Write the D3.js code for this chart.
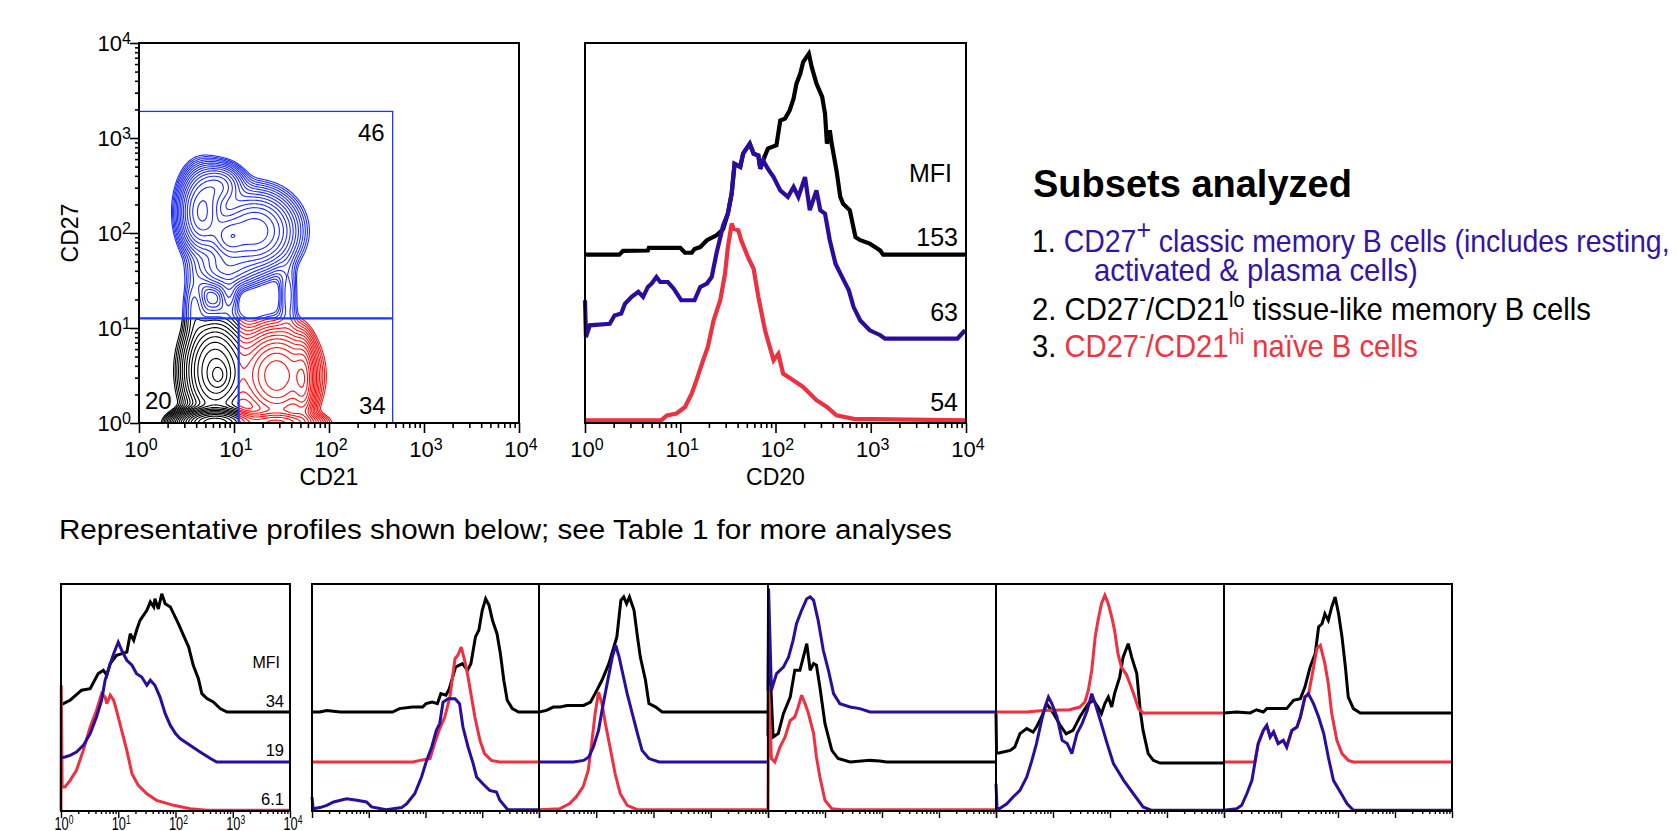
<!DOCTYPE html>
<html>
<head>
<meta charset="utf-8">
<script src="https://cdn.jsdelivr.net/npm/d3@7"></script>
<style>
  body { margin: 0; background: #fff; }
  text { font-family: "Liberation Sans", Arial, Helvetica, sans-serif; }
</style>
</head>
<body>
<svg id="fig" width="1678" height="831"></svg>
<script>
// ---------------- data ----------------
var decades = [1, 10, 100, 1000, 10000];
var decadeExp = ["0", "1", "2", "3", "4"];

// gates on the CD21 / CD27 plot
var gateCD21 = [1, 468];
var gateCD27 = [1, 1905];
var splitCD21 = 11.2;
var splitCD27 = 12.6;
var gatePercents = ["46", "20", "34"];

// cell populations, log10 units: [cd21, cd27, spread21, spread27, weight]
var memoryCells = [
  [0.66, 2.22, 0.12, 0.22, 1.0],
  [1.22, 2.02, 0.22, 0.21, 0.9],
  [0.94, 1.95, 0.10, 0.12, 0.5],
  [0.85, 2.50, 0.13, 0.12, 0.5],
  [0.90, 1.62, 0.18, 0.12, 0.25],
  [0.58, 1.25, 0.07, 0.20, 0.10],
  [0.95, 1.35, 0.06, 0.12, 0.08],
  [1.57, 1.35, 0.06, 0.22, 0.09]
];
var tissueCells = [
  [0.80, 0.55, 0.17, 0.28, 0.8],
  [0.84, 0.50, 0.06, 0.08, 0.3],
  [0.80, 0.00, 0.18, 0.07, 4.0]
];
var naiveCells = [
  [1.45, 0.50, 0.20, 0.25, 0.9],
  [1.73, 0.45, 0.06, 0.22, 0.45],
  [1.45, 0.00, 0.22, 0.06, 0.9]
];

// CD20 histograms: [log10 intensity, % of panel height]
var cd20Black = [[0,44.3],[0.36,44.3],[0.40,45.3],[0.66,45.4],[0.67,46.1],[1.0,46.1],[1.05,44.8],[1.12,44.8],[1.15,45.8],[1.21,46.3],[1.28,48.1],[1.38,49.4],[1.45,51.0],[1.50,55.1],[1.54,60.4],[1.57,68.2],[1.63,67.4],[1.66,70.9],[1.73,73.5],[1.77,70.9],[1.82,70.4],[1.84,66.9],[1.87,69.1],[1.92,72.2],[2.01,73.1],[2.05,79.6],[2.10,80.1],[2.15,82.3],[2.19,85.4],[2.22,89.3],[2.26,91.9],[2.29,95.0],[2.35,97.2],[2.38,93.7],[2.43,89.3],[2.49,85.8],[2.52,81.4],[2.54,73.5],[2.57,77.0],[2.59,73.5],[2.64,66.5],[2.68,59.5],[2.71,57.7],[2.78,56.0],[2.84,48.9],[2.89,48.1],[2.99,47.2],[3.10,45.4],[3.13,44.3],[4,44.3]];
var cd20Blue = [[0,32.3],[0.01,22.6],[0.05,25.7],[0.26,26.1],[0.31,28.3],[0.38,28.8],[0.42,31.4],[0.49,33.2],[0.56,34.5],[0.61,33.2],[0.66,35.8],[0.70,36.7],[0.75,38.4],[0.79,37.1],[0.87,37.1],[0.93,35.4],[1.01,32.3],[1.15,32.3],[1.21,35.8],[1.28,36.7],[1.33,38.4],[1.38,44.6],[1.45,52.0],[1.50,55.1],[1.54,60.4],[1.57,68.2],[1.63,67.4],[1.66,70.9],[1.73,73.5],[1.77,70.9],[1.82,70.4],[1.84,66.9],[1.87,69.1],[1.92,66.9],[1.98,64.7],[2.05,61.2],[2.13,59.5],[2.19,62.1],[2.24,59.5],[2.31,64.7],[2.36,56.0],[2.43,61.2],[2.47,56.0],[2.52,55.1],[2.57,48.1],[2.63,41.9],[2.70,38.4],[2.77,34.9],[2.82,30.5],[2.89,27.0],[2.99,24.4],[3.10,23.1],[3.15,22.2],[3.91,22.2],[3.99,24.4]];
var cd20Red = [[0,0.7],[0.80,0.7],[0.86,2.0],[0.96,2.5],[1.05,4.2],[1.12,7.7],[1.17,11.2],[1.24,16.5],[1.29,20.0],[1.35,27.0],[1.42,32.3],[1.47,39.3],[1.50,46.3],[1.54,52.5],[1.56,51.1],[1.61,50.7],[1.64,48.1],[1.71,43.7],[1.77,40.6],[1.82,33.2],[1.89,24.4],[1.98,16.5],[2.03,18.2],[2.08,13.0],[2.19,11.2],[2.29,9.5],[2.43,6.0],[2.54,4.2],[2.64,2.0],[2.82,1.1],[4,0.7]];
var cd20Mfi = ["153", "63", "54"];

// representative profiles (bottom row)
var p1Black = [[0,46.5],[0.04,47.3],[0.16,48.8],[0.36,53.2],[0.51,53.9],[0.65,60.5],[0.74,62.0],[0.80,59.8],[0.86,64.9],[0.97,68.6],[1.15,70.0],[1.21,78.1],[1.27,75.2],[1.32,79.6],[1.38,84.0],[1.50,88.4],[1.56,92.1],[1.62,89.9],[1.64,93.5],[1.70,89.0],[1.76,95.7],[1.82,91.3],[1.91,89.9],[2.05,82.5],[2.14,77.4],[2.23,72.2],[2.31,64.2],[2.40,58.3],[2.46,51.7],[2.55,49.5],[2.66,48.0],[2.78,45.1],[2.90,43.6],[4,43.6]];
var p1Blue = [[0,23.5],[0.07,23.8],[0.16,24.5],[0.27,26.0],[0.39,28.9],[0.51,34.1],[0.62,41.4],[0.71,48.8],[0.77,57.6],[0.86,64.9],[0.92,69.3],[1.0,74.4],[1.06,70.8],[1.15,66.4],[1.24,64.2],[1.32,60.5],[1.41,59.0],[1.50,55.4],[1.56,57.6],[1.64,55.4],[1.73,50.2],[1.82,42.9],[1.91,37.7],[2.0,34.1],[2.08,31.9],[2.26,28.9],[2.43,26.0],[2.61,23.1],[2.72,21.6],[4,21.6]];
var p1Red = [[0,0],[0.005,55.4],[0.02,10.6],[0.07,10.6],[0.16,13.5],[0.27,17.9],[0.39,26.7],[0.51,37.0],[0.62,44.3],[0.71,51.7],[0.77,50.2],[0.80,47.3],[0.86,51.0],[0.92,48.8],[0.97,44.3],[1.06,35.5],[1.15,26.7],[1.24,16.4],[1.35,11.3],[1.50,7.6],[1.67,4.7],[1.97,2.5],[2.26,1.0],[2.55,0.3],[4,0.3]];
var p1Mfi = ["34", "19", "6.1"];

var p2Black = [[0,43.6],[0.14,43.6],[0.26,44.3],[0.5,43.6],[0.96,43.6],[1.42,43.6],[1.54,45.1],[1.77,45.8],[1.95,45.8],[2.01,47.3],[2.12,48.0],[2.21,47.3],[2.27,51.7],[2.36,51.0],[2.42,53.9],[2.53,63.4],[2.65,64.9],[2.74,62.0],[2.80,64.9],[2.88,76.7],[2.94,79.6],[3.0,88.4],[3.06,93.5],[3.12,90.6],[3.18,84.0],[3.26,78.1],[3.32,69.3],[3.38,57.6],[3.44,48.8],[3.53,45.1],[3.64,43.6],[4,43.6]];
var p2Blue = [[0,6.2],[0.02,1.0],[0.14,1.5],[0.26,2.5],[0.38,4.0],[0.61,5.4],[0.79,4.7],[0.96,4.0],[1.05,1.8],[1.31,0.6],[1.58,1.5],[1.67,3.2],[1.81,7.6],[1.93,15.0],[2.02,22.3],[2.11,28.2],[2.19,35.5],[2.25,38.5],[2.31,48.0],[2.40,49.5],[2.52,49.5],[2.60,47.3],[2.66,37.0],[2.75,28.2],[2.84,20.9],[2.90,15.0],[3.01,12.0],[3.13,9.1],[3.25,8.4],[3.31,4.7],[3.45,0.6],[4,0.6]];
var p2Red = [[0,21.6],[1.78,21.6],[1.90,22.3],[2.08,23.1],[2.16,29.7],[2.25,36.3],[2.34,41.4],[2.43,50.2],[2.52,67.1],[2.57,68.6],[2.63,72.2],[2.69,66.4],[2.75,59.0],[2.81,50.2],[2.87,41.4],[2.96,31.1],[3.04,25.3],[3.16,22.3],[3.31,21.6],[4,21.6]];

var p3Black = [[0,43.6],[0.13,44.3],[0.25,45.8],[0.37,45.8],[0.49,46.5],[0.78,46.5],[0.90,48.0],[0.98,51.7],[1.10,57.6],[1.22,64.9],[1.36,76.7],[1.43,92.8],[1.48,94.3],[1.53,91.3],[1.58,94.3],[1.66,88.4],[1.72,76.7],[1.77,67.8],[1.86,57.6],[1.92,47.3],[2.04,45.8],[2.15,43.6],[4,43.6]];
var p3Blue = [[0,21.6],[0.6,21.6],[0.78,22.3],[0.87,23.8],[0.95,28.2],[1.04,35.5],[1.10,44.3],[1.19,56.1],[1.28,67.8],[1.34,73.0],[1.40,67.8],[1.45,62.0],[1.54,51.7],[1.63,42.9],[1.72,34.1],[1.80,26.7],[1.92,23.1],[2.10,21.6],[4,21.6]];
var p3Red = [[0,0.6],[0.36,1.0],[0.53,3.2],[0.65,6.2],[0.77,10.6],[0.86,17.9],[0.92,29.7],[0.98,42.9],[1.04,52.4],[1.10,47.3],[1.16,38.5],[1.24,28.2],[1.33,16.4],[1.42,7.6],[1.54,2.5],[1.72,0.6],[4,0.6]];

var p4Black = [[0,33.0],[0.01,76.7],[0.09,32.6],[0.18,34.1],[0.27,42.9],[0.39,50.2],[0.47,62.0],[0.56,62.0],[0.62,67.8],[0.68,73.7],[0.74,62.0],[0.80,64.9],[0.85,64.2],[0.91,54.6],[1.0,38.5],[1.12,26.7],[1.23,23.1],[1.44,21.6],[1.79,22.3],[1.96,22.0],[2.08,21.6],[4,21.6]];
var p4Blue = [[0,53.0],[0.01,98.0],[0.06,53.2],[0.15,60.5],[0.27,63.4],[0.36,67.8],[0.44,75.2],[0.50,82.5],[0.59,88.4],[0.68,93.5],[0.74,94.3],[0.80,92.8],[0.88,84.0],[0.97,70.8],[1.06,62.0],[1.15,51.7],[1.26,47.3],[1.44,45.8],[1.61,45.1],[1.79,43.6],[4,43.6]];
var p4Red = [[0,0.6],[0.01,55.4],[0.06,23.1],[0.12,21.6],[0.21,28.2],[0.30,32.6],[0.39,39.9],[0.47,41.4],[0.53,45.8],[0.59,51.0],[0.65,47.3],[0.71,42.9],[0.80,34.1],[0.85,23.8],[0.91,15.0],[1.0,4.7],[1.12,1.0],[1.3,0.6],[4,0.6]];

var p5Black = [[0,43.0],[0.01,25.6],[0.05,25.6],[0.25,26.7],[0.33,28.2],[0.42,34.1],[0.54,36.3],[0.65,34.8],[0.71,37.0],[0.80,41.4],[0.89,47.3],[1.01,42.9],[1.12,38.0],[1.23,34.0],[1.35,35.5],[1.47,41.4],[1.62,47.3],[1.71,48.8],[1.79,45.8],[1.85,42.9],[1.91,47.3],[1.97,50.2],[2.03,45.8],[2.08,51.7],[2.17,59.0],[2.23,67.8],[2.32,73.7],[2.38,67.8],[2.47,60.5],[2.53,44.3],[2.58,35.5],[2.67,25.3],[2.76,22.3],[2.88,21.1],[4,21.1]];
var p5Blue = [[0,12.0],[0.02,0.3],[0.19,3.2],[0.30,6.2],[0.42,9.1],[0.54,15.0],[0.63,22.3],[0.71,29.7],[0.80,39.9],[0.86,45.8],[0.92,50.2],[0.98,47.3],[1.07,41.4],[1.16,31.1],[1.25,29.7],[1.33,25.3],[1.42,34.1],[1.51,38.5],[1.60,44.3],[1.68,51.7],[1.74,47.3],[1.83,39.9],[1.95,29.7],[2.06,20.9],[2.24,13.5],[2.41,7.6],[2.58,1.8],[2.73,0.3],[4,0.3]];
var p5Red = [[0,43.6],[0.54,43.6],[0.83,44.3],[1.29,44.6],[1.47,45.8],[1.56,48.0],[1.62,53.2],[1.68,62.0],[1.74,76.7],[1.79,84.0],[1.85,91.3],[1.91,95.0],[1.97,91.3],[2.03,85.5],[2.08,79.6],[2.14,69.3],[2.20,63.4],[2.29,60.0],[2.41,52.0],[2.50,45.1],[2.58,43.2],[4,43.2]];

var p6Black = [[0,43.2],[0.22,43.6],[0.46,43.2],[0.57,44.6],[0.69,43.6],[0.75,45.1],[1.10,45.1],[1.22,48.8],[1.34,49.5],[1.42,54.6],[1.51,63.4],[1.60,69.3],[1.66,81.1],[1.72,82.5],[1.77,86.9],[1.83,84.0],[1.89,89.9],[1.95,94.3],[2.01,86.9],[2.07,76.7],[2.13,63.4],[2.18,50.2],[2.27,45.1],[2.39,43.2],[4,43.2]];
var p6Blue = [[0,0.3],[0.22,1.0],[0.31,2.5],[0.40,7.6],[0.49,13.5],[0.54,20.9],[0.60,29.7],[0.69,35.5],[0.75,37.7],[0.81,32.6],[0.87,34.8],[0.95,29.7],[1.04,31.1],[1.10,28.2],[1.19,35.5],[1.28,37.0],[1.34,41.4],[1.42,50.2],[1.48,51.7],[1.57,47.3],[1.66,41.4],[1.75,34.1],[1.83,23.8],[1.92,13.5],[2.04,8.4],[2.16,3.2],[2.27,0.3],[4,0.3]];
var p6Red = [[0,21.6],[0.54,21.6],[0.60,29.7],[0.69,35.5],[0.75,37.7],[0.81,32.6],[0.87,34.8],[0.95,29.7],[1.04,31.1],[1.10,28.2],[1.19,35.5],[1.28,37.0],[1.34,41.4],[1.42,50.2],[1.48,51.0],[1.54,59.0],[1.63,71.6],[1.69,73.0],[1.77,64.9],[1.83,56.1],[1.89,42.9],[1.98,31.1],[2.07,25.3],[2.18,22.3],[2.27,21.6],[4,21.6]];

// ---------------- drawing ----------------
var blue = "#2b0ca0", red = "#ee3040", black = "#000";
var svg = d3.select("#fig");
svg.append("rect").attr("width", 1678).attr("height", 831).attr("fill", "#fff");

var minorTicks = [];
decades.slice(0, 4).forEach(function(d) {
  for (var k = 2; k < 10; k++) minorTicks.push(d * k);
});

function logTicks(scale, side, pos, major, minor, w) {
  var make = side === "bottom" ? d3.axisBottom : d3.axisLeft;
  var tr = side === "bottom" ? "translate(0," + pos + ")" : "translate(" + pos + ",0)";
  [[minorTicks, minor], [decades, major]].forEach(function(t) {
    var g = svg.append("g").attr("transform", tr)
      .call(make(scale).tickValues(t[0]).tickSize(t[1]).tickFormat(""));
    g.select(".domain").remove();
    g.selectAll("line").attr("stroke", "#000").attr("stroke-width", w);
  });
}

// power-of-ten label, e.g. 10 with superscript 2
function powerLabel(x, y, exp, anchor, size, supSize, rise) {
  var t = svg.append("text").attr("x", x).attr("y", y)
    .attr("text-anchor", anchor).attr("font-size", size).attr("fill", "#000");
  t.append("tspan").text("10");
  t.append("tspan").attr("font-size", supSize).attr("dy", -rise).text(exp);
  return t;
}

function squeeze(sel, x, target) {
  var len = sel.node().getComputedTextLength();
  var k = target / len;
  sel.attr("transform", "translate(" + x + ",0) scale(" + k + ",1) translate(" + (-x) + ",0)");
}

// ---- CD21 x CD27 contour plot ----
var cx = d3.scaleLog().domain([1, 1e4]).range([139, 519]);
var cy = d3.scaleLog().domain([1, 1e4]).range([423, 43]);

var n = 240, span = 4;
var grid = new Float64Array(n * n);
var allCells = memoryCells.concat(tissueCells, naiveCells);
for (var j = 0; j < n; j++) {
  for (var i = 0; i < n; i++) {
    var lx = (i + 0.5) * span / n, ly = (j + 0.5) * span / n, v = 0;
    allCells.forEach(function(c) {
      v += c[4] * Math.exp(-((lx - c[0]) * (lx - c[0]) / (2 * c[2] * c[2]) +
                             (ly - c[1]) * (ly - c[1]) / (2 * c[3] * c[3])));
    });
    grid[j * n + i] = v;
  }
}
var levels = d3.range(20).map(function(k) { return 0.03 * Math.pow(1.28, k); });
var contours = d3.contours().size([n, n]).thresholds(levels)(grid);
var toPlot = d3.geoTransform({
  point: function(gx, gy) {
    this.stream.point(cx(Math.pow(10, gx * span / n)), cy(Math.pow(10, gy * span / n)));
  }
});
var contourPath = d3.geoPath(toPlot);

var defs = svg.append("defs");
var gateRegions = [
  ["clipMem", gateCD21[0], gateCD21[1], splitCD27, gateCD27[1], "#1f2bff"],
  ["clipTis", gateCD21[0], splitCD21, gateCD27[0], splitCD27, "#000"],
  ["clipNai", splitCD21, gateCD21[1], gateCD27[0], splitCD27, "#ff1010"]
];
gateRegions.forEach(function(r) {
  defs.append("clipPath").attr("id", r[0]).append("rect")
    .attr("x", cx(r[1])).attr("width", cx(r[2]) - cx(r[1]))
    .attr("y", cy(r[4])).attr("height", cy(r[3]) - cy(r[4]));
  svg.append("g").attr("clip-path", "url(#" + r[0] + ")")
    .selectAll("path").data(contours).enter().append("path")
    .attr("d", contourPath).attr("fill", "none")
    .attr("stroke", r[5]).attr("stroke-width", 1.1);
});

// gate box and dividers
svg.append("rect")
  .attr("x", cx(gateCD21[0])).attr("y", cy(gateCD27[1]))
  .attr("width", cx(gateCD21[1]) - cx(gateCD21[0]))
  .attr("height", cy(gateCD27[0]) - cy(gateCD27[1]))
  .attr("fill", "none").attr("stroke", "#1a36ff").attr("stroke-width", 1.3);
svg.append("line")
  .attr("x1", cx(gateCD21[0])).attr("x2", cx(gateCD21[1]))
  .attr("y1", cy(splitCD27)).attr("y2", cy(splitCD27))
  .attr("stroke", "#1a36ff").attr("stroke-width", 2.2);
svg.append("line")
  .attr("x1", cx(splitCD21)).attr("x2", cx(splitCD21))
  .attr("y1", cy(splitCD27)).attr("y2", cy(gateCD27[0]))
  .attr("stroke", "#1a36ff").attr("stroke-width", 2.2);

svg.append("text").attr("x", cx(gateCD21[1]) - 8).attr("y", cy(gateCD27[1]) + 30)
  .attr("text-anchor", "end").attr("font-size", 24).text(gatePercents[0]);
svg.append("text").attr("x", cx(gateCD21[0]) + 6).attr("y", cy(gateCD27[0]) - 14)
  .attr("font-size", 24).text(gatePercents[1]);
svg.append("text").attr("x", cx(gateCD21[1]) - 7).attr("y", cy(gateCD27[0]) - 9)
  .attr("text-anchor", "end").attr("font-size", 24).text(gatePercents[2]);

svg.append("rect").attr("x", 139).attr("y", 43).attr("width", 380).attr("height", 380)
  .attr("fill", "none").attr("stroke", "#000").attr("stroke-width", 2);
logTicks(cx, "bottom", 423, 10, 5, 1.6);
logTicks(cy, "left", 139, 9, 4, 1.6);
decades.forEach(function(d, k) {
  powerLabel(cx(d) + 2, 457, decadeExp[k], "middle", 22, 16, 7);
  powerLabel(131, cy(d) + 8, decadeExp[k], "end", 22, 16, 7);
});
svg.append("text").attr("x", 329).attr("y", 485).attr("text-anchor", "middle")
  .attr("font-size", 23).text("CD21");
svg.append("text").attr("transform", "translate(78,233) rotate(-90)")
  .attr("text-anchor", "middle").attr("font-size", 23).text("CD27");

// ---- histogram panels ----
function histPanel(x0, x1, y0, y1, series, lineW) {
  var x = d3.scaleLog().domain([1, 1e4]).range([x0, x1]);
  var y = d3.scaleLinear().domain([0, 100]).range([y1, y0]);
  var line = d3.line()
    .x(function(d) { return x(Math.pow(10, d[0])); })
    .y(function(d) { return y(d[1]); });
  series.forEach(function(s) {
    svg.append("path").datum(s[0]).attr("d", line)
      .attr("fill", "none").attr("stroke", s[1]).attr("stroke-width", lineW)
      .attr("stroke-linejoin", "miter").attr("stroke-miterlimit", 3);
  });
  svg.append("rect").attr("x", x0).attr("y", y0).attr("width", x1 - x0).attr("height", y1 - y0)
    .attr("fill", "none").attr("stroke", "#000").attr("stroke-width", 2);
  return { x: x, y: y };
}

var cd20Panel = histPanel(585, 966, 43, 423, [[cd20Black, black], [cd20Red, red], [cd20Blue, blue]], 4.2);
logTicks(cd20Panel.x, "bottom", 423, 10, 5, 1.6);
decades.forEach(function(d, k) { powerLabel(cd20Panel.x(d) + 2, 457, decadeExp[k], "middle", 22, 16, 7); });
svg.append("text").attr("x", 775.5).attr("y", 485).attr("text-anchor", "middle")
  .attr("font-size", 23).text("CD20");
svg.append("text").attr("x", 952).attr("y", 182).attr("text-anchor", "end")
  .attr("font-size", 25).text("MFI");
[cd20Black, cd20Blue, cd20Red].forEach(function(s, k) {
  svg.append("text").attr("x", 958).attr("y", cd20Panel.y(s[s.length - 1][1]) - 9)
    .attr("text-anchor", "end").attr("font-size", 25).text(cd20Mfi[k]);
});

var rowTop = 584, rowBottom = 811;
var rowPanels = [
  [61, 290, p1Black, p1Blue, p1Red],
  [312, 539, p2Black, p2Blue, p2Red],
  [539, 768, p3Black, p3Blue, p3Red],
  [768, 996, p4Black, p4Blue, p4Red],
  [996, 1224, p5Black, p5Blue, p5Red],
  [1224, 1452, p6Black, p6Blue, p6Red]
];
var firstPanel;
rowPanels.forEach(function(p, k) {
  var s = histPanel(p[0], p[1], rowTop, rowBottom, [[p[2], black], [p[4], red], [p[3], blue]], 3);
  logTicks(s.x, "bottom", rowBottom, 7, 3, 1.4);
  if (k === 0) firstPanel = s;
});
svg.append("text").attr("x", 280).attr("y", 668).attr("text-anchor", "end")
  .attr("font-size", 16).text("MFI");
[p1Black, p1Blue, p1Red].forEach(function(s, k) {
  svg.append("text").attr("x", 284).attr("y", firstPanel.y(s[s.length - 1][1]) - 5.5)
    .attr("text-anchor", "end").attr("font-size", 16.5).text(p1Mfi[k]);
});
decades.forEach(function(d, k) {
  var t = powerLabel(firstPanel.x(d) + 3, 830, decadeExp[k], "middle", 18, 12, 6);
  squeeze(t, firstPanel.x(d) + 3, 19);
});

// ---- texts ----
var rep = svg.append("text").attr("x", 59).attr("y", 539).attr("font-size", 27)
  .text("Representative profiles shown below; see Table 1 for more analyses");
squeeze(rep, 59, 893);

svg.append("text").attr("x", 1033).attr("y", 197).attr("font-size", 38)
  .attr("font-weight", "bold").text("Subsets analyzed");

function richLine(x, y, parts, width) {
  var t = svg.append("text").attr("x", x).attr("y", y).attr("font-size", 32);
  var raised = 0;
  parts.forEach(function(p) {
    var ts = t.append("tspan").attr("fill", p[1]).text(p[0]);
    var rise = p[2] || 0;
    if (rise !== raised) { ts.attr("dy", raised - rise); raised = rise; }
    if (rise) ts.attr("font-size", p[3] || 22);
  });
  squeeze(t, x, width);
}
var legendBlue = "#3314a6", legendRed = "#ee3440";
richLine(1032, 252, [["1. ", black], ["CD27", legendBlue], ["+", legendBlue, 13, 28],
  [" classic memory B cells (includes resting,", legendBlue]], 638);
richLine(1094, 281, [["activated & plasma cells)", legendBlue]], 324);
richLine(1032, 320, [["2. CD27", black], ["-", black, 14, 22], ["/CD21", black],
  ["lo", black, 13, 22], [" tissue-like memory B cells", black]], 559);
richLine(1032, 357, [["3. ", black], ["CD27", legendRed], ["-", legendRed, 14, 22], ["/CD21", legendRed],
  ["hi", legendRed, 13, 22], [" naïve B cells", legendRed]], 386);
</script>
</body>
</html>
